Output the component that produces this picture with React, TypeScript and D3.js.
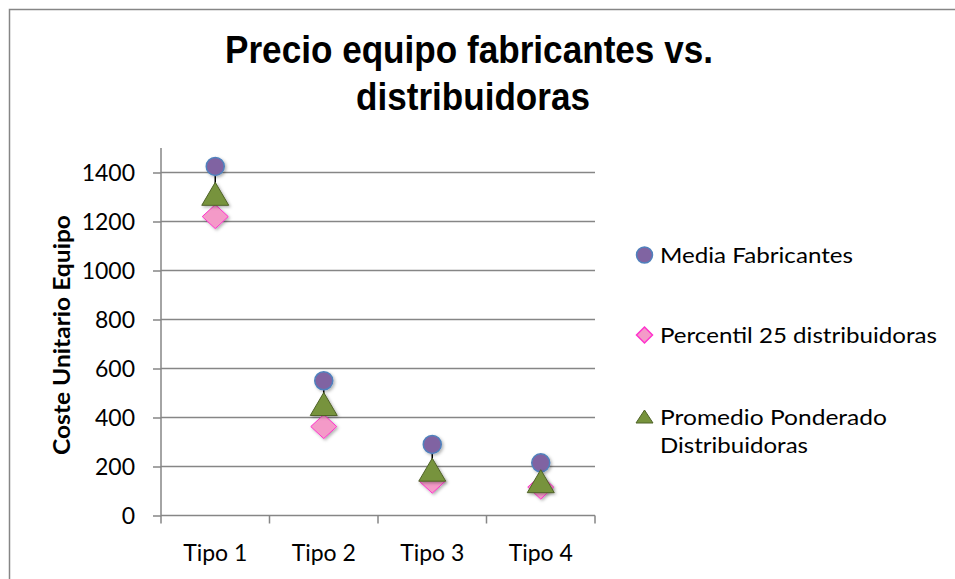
import React, { useEffect, useRef } from 'react';
import * as d3 from 'd3';

const categories = ['Tipo 1', 'Tipo 2', 'Tipo 3', 'Tipo 4'];
const mediaFabricantes = [1425, 550, 290, 215];
const percentil25 = [1220, 363, 140, 116];
const promedioPonderado = [1313, 455, 187, 140];
const yTicks = [0, 200, 400, 600, 800, 1000, 1200, 1400];

const seriesNames = ['Media Fabricantes', 'Percentil 25 distribuidoras', 'Promedio Ponderado'];

export default function App() {
    const ref = useRef<SVGSVGElement>(null);

    useEffect(() => {
        if (!ref.current) return;
        const svg = d3.select(ref.current);
        svg.selectAll('*').remove();

        const width = 955;
        const height = 579;
        const left = 161, right = 595, bottom = 515.5, top = 148;
        const grey = '#868686';
        const font = 'Lato, "Noto Sans", sans-serif';

        svg.attr('width', width).attr('height', height);

        const defs = svg.append('defs');
        const f = defs.append('filter').attr('id', 'shadow')
            .attr('x', '-50%').attr('y', '-50%').attr('width', '200%').attr('height', '200%');
        f.append('feDropShadow').attr('dx', 1.5).attr('dy', 1.5)
            .attr('stdDeviation', 1.5).attr('flood-color', '#000').attr('flood-opacity', 0.3);

        // frame
        svg.append('rect').attr('x', 0).attr('y', 0).attr('width', width).attr('height', height).attr('fill', '#fff');
        svg.append('rect').attr('x', 9.5).attr('y', 9.5).attr('width', 980).attr('height', 620)
            .attr('fill', '#fff').attr('stroke', grey).attr('stroke-width', 1.5);

        // title
        const title = svg.append('g').attr('font-family', '"Liberation Sans", Arial, sans-serif')
            .attr('font-weight', 'bold').attr('font-size', 39).attr('text-anchor', 'middle');
        title.append('text').attr('x', 469).attr('y', 63)
            .attr('textLength', 488).attr('lengthAdjust', 'spacingAndGlyphs')
            .text('Precio equipo fabricantes vs.');
        title.append('text').attr('x', 473).attr('y', 110)
            .attr('textLength', 234).attr('lengthAdjust', 'spacingAndGlyphs')
            .text('distribuidoras');

        const x = d3.scaleBand().domain(categories).range([left, right]);
        const y = d3.scaleLinear().domain([0, 1500]).range([bottom, top]);

        // gridlines
        svg.append('g').selectAll('line').data(yTicks.filter(d => d > 0)).enter().append('line')
            .attr('x1', left).attr('x2', right)
            .attr('y1', d => y(d)).attr('y2', d => y(d))
            .attr('stroke', grey).attr('stroke-width', 1.5);

        // y axis
        const yAxis = svg.append('g').attr('transform', `translate(${left},0)`)
            .call(d3.axisLeft(y).tickValues(yTicks).tickFormat(d3.format('d')).tickSize(8).tickPadding(18));
        yAxis.select('.domain').attr('stroke', grey).attr('stroke-width', 1.5).attr('d', `M0,${top}V${bottom}`);
        yAxis.selectAll('.tick line').attr('stroke', grey).attr('stroke-width', 1.5);
        yAxis.selectAll('.tick text').attr('font-family', font).attr('font-size', 23)
            .attr('fill', '#000').attr('dy', '0.36em');

        // x axis
        const xAxis = svg.append('g').attr('transform', `translate(0,${bottom})`)
            .call(d3.axisBottom(x).tickSize(0).tickPadding(29));
        xAxis.select('.domain').attr('stroke', grey).attr('stroke-width', 1.5).attr('d', `M${left},0H${right}`);
        xAxis.selectAll('.tick text').attr('font-family', font).attr('font-size', 23)
            .attr('fill', '#000').attr('dy', '0.71em');
        const bounds = [...categories.map(c => x(c)!), right];
        xAxis.selectAll('.bound').data(bounds).enter().append('line')
            .attr('x1', d => d).attr('x2', d => d).attr('y1', 0).attr('y2', 8)
            .attr('stroke', grey).attr('stroke-width', 1.5);

        // y axis title
        svg.append('text').attr('transform', 'translate(70,335) rotate(-90)')
            .attr('text-anchor', 'middle').attr('font-family', font).attr('font-weight', 'bold')
            .attr('font-size', 22).attr('textLength', 240).attr('lengthAdjust', 'spacingAndGlyphs')
            .text('Coste Unitario Equipo');

        const cx = (i: number) => x(categories[i])! + x.bandwidth() / 2;

        // high-low lines
        svg.append('g').selectAll('line').data(categories).enter().append('line')
            .attr('x1', (_, i) => cx(i)).attr('x2', (_, i) => cx(i))
            .attr('y1', (_, i) => y(Math.max(mediaFabricantes[i], percentil25[i], promedioPonderado[i])))
            .attr('y2', (_, i) => y(Math.min(mediaFabricantes[i], percentil25[i], promedioPonderado[i])))
            .attr('stroke', '#000').attr('stroke-width', 1.5);

        const circle = d3.symbol().type(d3.symbolCircle);
        const diamond = (w: number, h: number) => `M0,${-h}L${w},0L0,${h}L${-w},0Z`;
        const triangle = (w: number, h: number) => `M0,${-h}L${w},${h}L${-w},${h}Z`;

        const styles = [
            { fill: '#8064a2', stroke: '#4f81bd' },
            { fill: '#f49ac8', stroke: '#ff33cc' },
            { fill: '#77933c', stroke: '#4f6228' },
        ];

        // markers
        svg.append('g').selectAll('circle').data(mediaFabricantes).enter().append('circle')
            .attr('cx', (_, i) => cx(i)).attr('cy', d => y(d)).attr('r', 9)
            .attr('fill', styles[0].fill).attr('stroke', styles[0].stroke).attr('stroke-width', 1.5)
            .attr('filter', 'url(#shadow)');
        svg.append('g').selectAll('path').data(percentil25).enter().append('path')
            .attr('transform', (d, i) => `translate(${cx(i)},${y(d)})`)
            .attr('d', diamond(13, 12))
            .attr('fill', styles[1].fill).attr('stroke', styles[1].stroke).attr('stroke-width', 1)
            .attr('filter', 'url(#shadow)');
        svg.append('g').selectAll('path').data(promedioPonderado).enter().append('path')
            .attr('transform', (d, i) => `translate(${cx(i)},${y(d)})`)
            .attr('d', triangle(13.5, 11.5))
            .attr('fill', styles[2].fill).attr('stroke', styles[2].stroke).attr('stroke-width', 1)
            .attr('filter', 'url(#shadow)');

        // legend
        const lg = svg.append('g').attr('font-family', font).attr('font-size', 22);
        const lx = 644.5;
        lg.append('path').attr('transform', `translate(${lx},255)`)
            .attr('d', circle.size(Math.PI * 8 * 8)()!)
            .attr('fill', styles[0].fill).attr('stroke', styles[0].stroke).attr('stroke-width', 1.5);
        lg.append('path').attr('transform', `translate(${lx},335)`).attr('d', diamond(8, 8))
            .attr('fill', styles[1].fill).attr('stroke', styles[1].stroke).attr('stroke-width', 1.5);
        lg.append('path').attr('transform', `translate(${lx},416.5)`).attr('d', triangle(8.5, 6.5))
            .attr('fill', styles[2].fill).attr('stroke', styles[2].stroke).attr('stroke-width', 1);

        const legendText = [
            { t: seriesNames[0], y: 263, w: 193 },
            { t: seriesNames[1], y: 343, w: 277 },
            { t: seriesNames[2], y: 425, w: 227 },
            { t: 'Distribuidoras', y: 453, w: 148 },
        ];
        lg.selectAll('text').data(legendText).enter().append('text')
            .attr('x', 660).attr('y', d => d.y)
            .attr('textLength', d => d.w).attr('lengthAdjust', 'spacingAndGlyphs')
            .text(d => d.t);
    }, []);

    return <svg ref={ref} style={{ position: 'absolute', left: 0, top: 0 }} />;
}
